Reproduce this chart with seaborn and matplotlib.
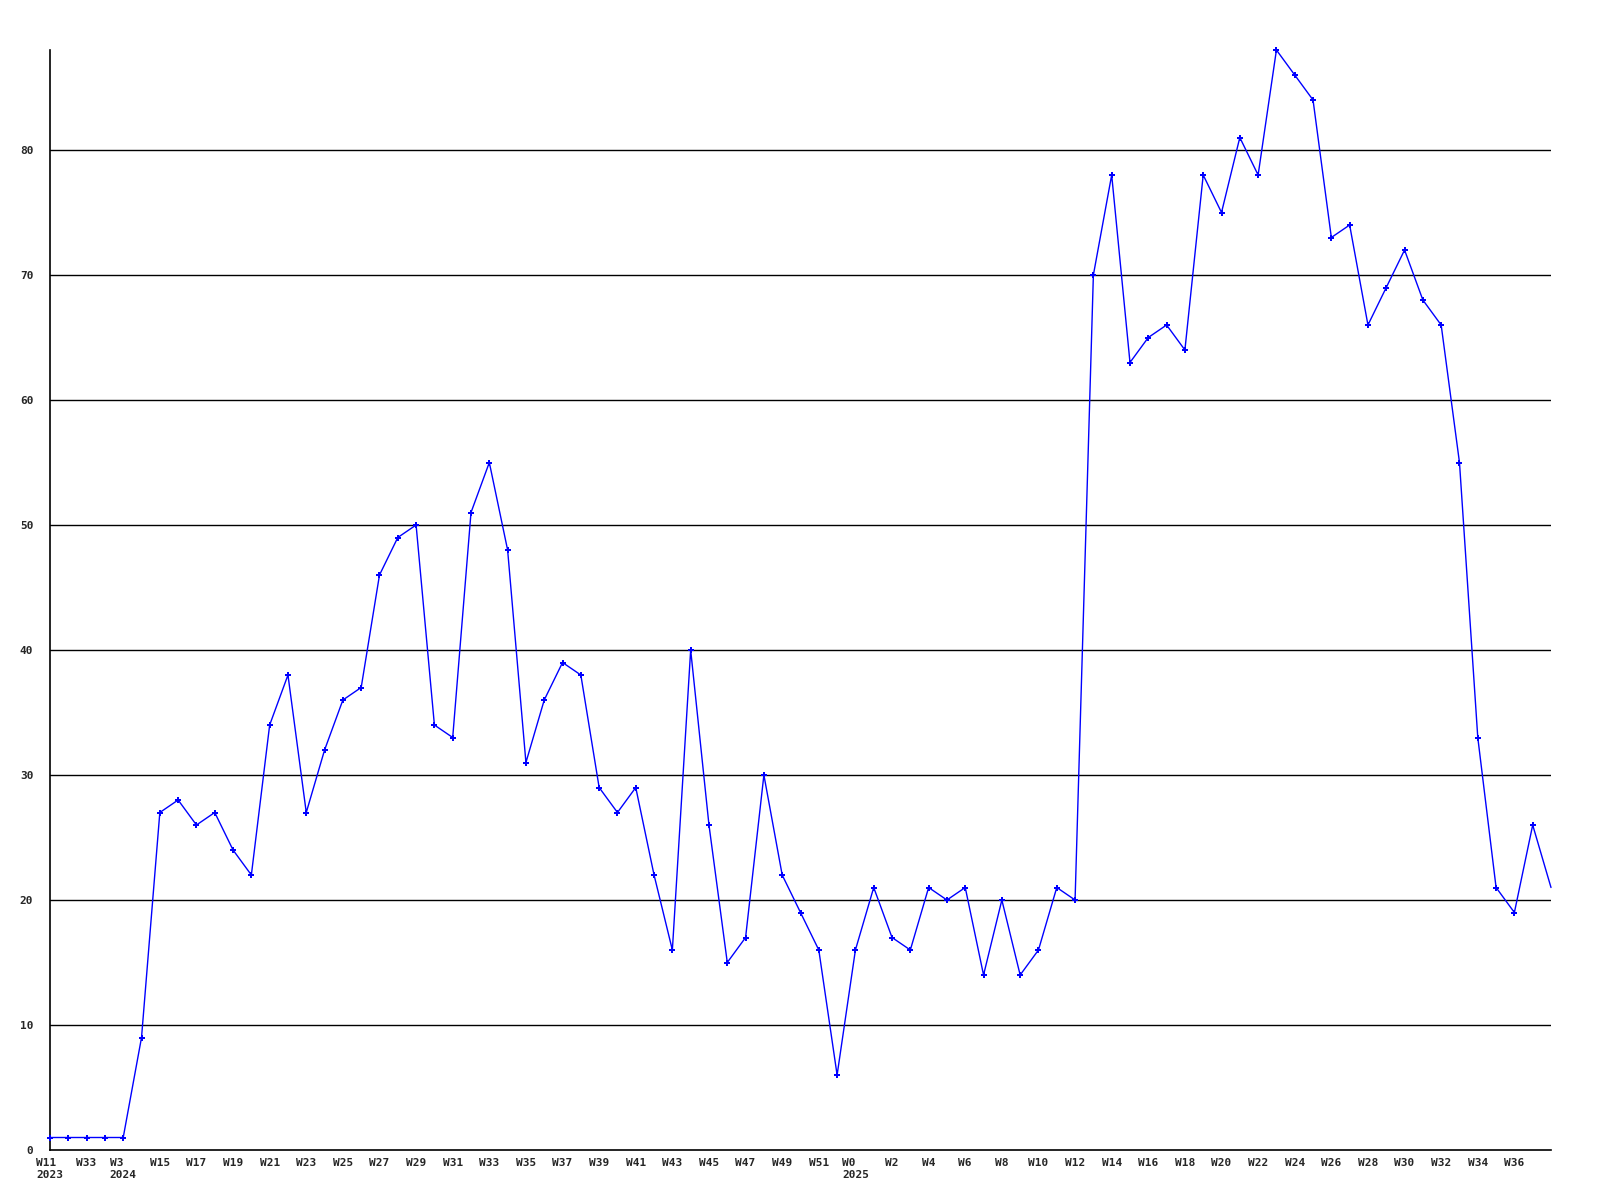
import matplotlib
matplotlib.use("Agg")
import matplotlib.pyplot as plt
import seaborn as sns
import pandas as pd
import numpy as np

values = [1, 1, 1, 1, 1, 9, 27, 28, 26, 27, 24, 22, 34, 38, 27, 32, 36, 37, 46, 49,
          50, 34, 33, 51, 55, 48, 31, 36, 39, 38, 29, 27, 29, 22, 16, 40, 26, 15, 17, 30,
          22, 19, 16, 6, 16, 21, 17, 16, 21, 20, 21, 14, 20, 14, 16, 21, 20, 70, 78, 63,
          65, 66, 64, 78, 75, 81, 78, 88, 86, 84, 73, 74, 66, 69, 72, 68, 66, 55, 33, 21,
          19, 26, 21]

tick_labels = ["W11\n2023", "W33", "W3\n2024", "W15", "W17", "W19", "W21", "W23", "W25", "W27",
               "W29", "W31", "W33", "W35", "W37", "W39", "W41", "W43", "W45", "W47",
               "W49", "W51", "W0\n2025", "W2", "W4", "W6", "W8", "W10", "W12", "W14",
               "W16", "W18", "W20", "W22", "W24", "W26", "W28", "W30", "W32", "W34", "W36"]

y_ticks = [0, 10, 20, 30, 40, 50, 60, 70, 80]

df = pd.DataFrame({"idx": np.arange(len(values)), "value": values})

sns.set_style("white")
plt.rcParams['font.family'] = ['DejaVu Sans Mono', 'DejaVu Sans']

fig = plt.figure(figsize=(16, 12), dpi=100)
ax = fig.add_axes([50/1600, 1 - 1150/1200, 1501/1600, 1100/1200])

for t in y_ticks[1:]:
    ax.axhline(t, color="black", linewidth=1, zorder=1)

sns.lineplot(data=df, x="idx", y="value", ax=ax, color="#0000FF", linewidth=1,
             marker="P", markersize=5, markeredgewidth=0, markevery=list(range(len(values) - 1)),
             zorder=3, clip_on=False)

ax.set_xlim(0, len(values) - 1)
ax.set_ylim(0, 88)
ax.set_xticks(np.arange(0, 2 * len(tick_labels), 2))
ax.set_xticklabels(tick_labels, fontsize=8, fontweight="bold", ha="center", va="top",
                   linespacing=1.25, multialignment="left")
ax.set_yticks(y_ticks)
ax.set_yticklabels([str(t) for t in y_ticks], fontsize=8, fontweight="bold")
ax.tick_params(axis="x", length=0, pad=6)
ax.tick_params(axis="y", length=0, pad=12)
ax.set_xlabel("")
ax.set_ylabel("")
for s in ["top", "right"]:
    ax.spines[s].set_visible(False)
for s in ["left", "bottom"]:
    ax.spines[s].set_color("black")
    ax.spines[s].set_linewidth(1.2)
ax.grid(False)

fig.savefig("out.png", dpi=100)
